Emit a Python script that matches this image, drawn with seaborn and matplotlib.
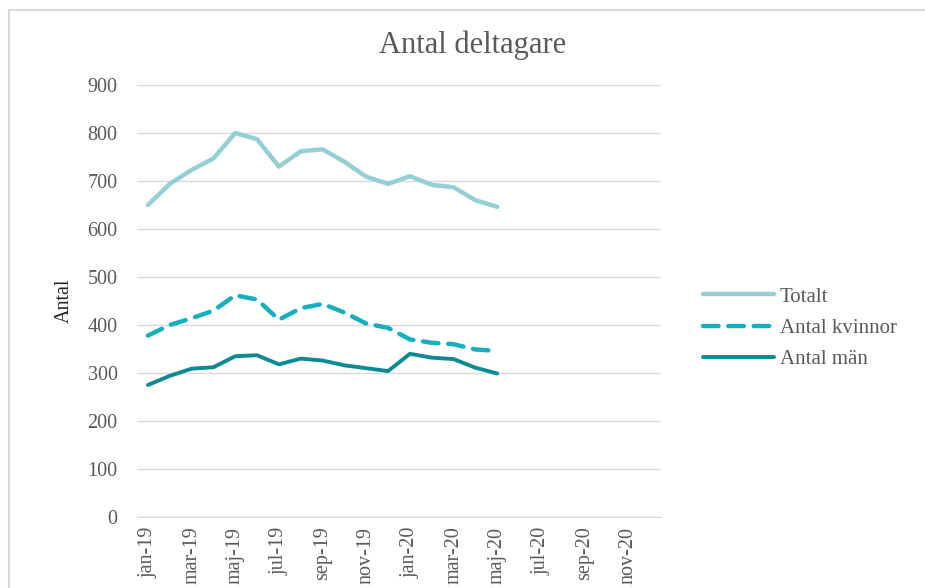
import pandas as pd
import seaborn as sns
import matplotlib.pyplot as plt
from matplotlib.lines import Line2D

months = ["jan-19", "feb-19", "mar-19", "apr-19", "maj-19", "jun-19", "jul-19", "aug-19",
          "sep-19", "okt-19", "nov-19", "dec-19", "jan-20", "feb-20", "mar-20", "apr-20",
          "maj-20", "jun-20", "jul-20", "aug-20", "sep-20", "okt-20", "nov-20", "dec-20"]
totalt = [650, 694, 723, 747, 800, 787, 730, 762, 766, 740, 709, 694, 710, 692, 687, 660, 646]
kvinnor = [378, 400, 414, 430, 462, 453, 411, 435, 444, 426, 403, 394, 370, 363, 360, 349, 346]
man = [275, 294, 309, 312, 335, 337, 318, 330, 326, 316, 310, 304, 340, 332, 329, 311, 299]
yticks = [0, 100, 200, 300, 400, 500, 600, 700, 800, 900]

sns.set_style("white")
plt.rcParams["font.family"] = ["Liberation Serif", "DejaVu Serif"]
grey = "#595959"

fig = plt.figure(figsize=(9.25, 5.88), dpi=100)
ax = fig.add_axes([137 / 925, 71 / 588, 524 / 925, 432 / 588])

x = list(range(len(totalt)))
sns.lineplot(x=x, y=totalt, ax=ax, color="#95CFD6", linewidth=3.2)
sns.lineplot(x=x, y=kvinnor, ax=ax, color="#16AFBE", linewidth=3.2)
ax.lines[-1].set_dashes([3.5, 2.2])
ax.lines[-1].set_dash_capstyle("round")
sns.lineplot(x=x, y=man, ax=ax, color="#0E8A94", linewidth=2.8)

ax.set_xlim(-0.5, len(months) - 0.5)
ax.set_ylim(0, 900)
ax.set_yticks(yticks)
ax.set_xticks(range(0, len(months), 2))
ax.set_xticklabels(months[::2], rotation=90)
ax.tick_params(axis="y", labelsize=14.5, colors=grey, pad=14, length=0)
ax.tick_params(axis="x", labelsize=14.5, colors=grey, pad=7, length=0)
ax.grid(axis="y", color="#D9D9D9", linewidth=1)
ax.set_axisbelow(True)
for s in ["top", "right", "left"]:
    ax.spines[s].set_visible(False)
ax.spines["bottom"].set_color("#D9D9D9")
ax.set_ylabel("Antal", fontsize=14.5, color="#222222", labelpad=10)

fig.text(473 / 925, 1 - 45 / 588, "Antal deltagare", ha="center", va="center",
         fontsize=22, color=grey)

handles = [Line2D([], [], color="#95CFD6", lw=3.2),
           Line2D([], [], color="#16AFBE", lw=3.2, dashes=[3.5, 2.2], dash_capstyle="round"),
           Line2D([], [], color="#0E8A94", lw=2.8)]
leg = fig.legend(handles, ["Totalt", "Antal kvinnor", "Antal män"],
                 loc="center left", bbox_to_anchor=(684 / 925, 1 - 328 / 588),
                 frameon=False, fontsize=15, handlelength=3.4, labelspacing=0.55,
                 handletextpad=0.3)
for t in leg.get_texts():
    t.set_color(grey)

fig.add_artist(Line2D([9 / 925, 9 / 925], [0, 1 - 10 / 588], color="#D9D9D9", lw=1.5))
fig.add_artist(Line2D([9 / 925, 1], [1 - 10 / 588, 1 - 10 / 588], color="#D9D9D9", lw=1.5))

fig.savefig("out.png", dpi=100)
